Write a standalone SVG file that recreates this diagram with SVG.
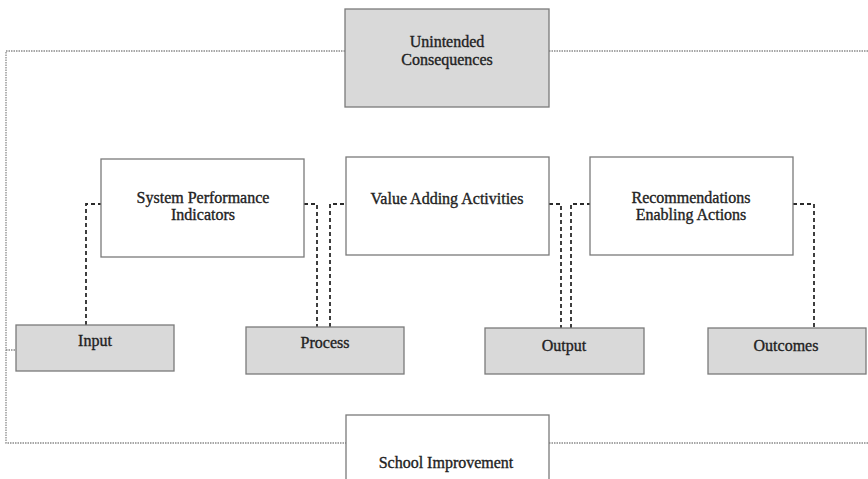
<svg xmlns="http://www.w3.org/2000/svg" width="868" height="479" viewBox="0 0 868 479">
<style>
.box{stroke:#7a7a7a;stroke-width:1.3}
.g{fill:#d9d9d9}
.w{fill:#ffffff}
text{font-family:"Liberation Serif",serif;font-size:16px;fill:#222;stroke:#222;stroke-width:0.35;text-anchor:middle}
.dot{fill:none;stroke:#8a8a8a;stroke-width:1.3;stroke-dasharray:1.5 1}
.dash{fill:none;stroke:#2a2a2a;stroke-width:1.8;stroke-dasharray:4 3}
</style>
<rect width="868" height="479" fill="#fff"/>
<g id="connectors">
<path class="dot" d="M345 51 H6 V443 H346"/>
<path class="dot" d="M549 51 H868"/>
<path class="dot" d="M549 443 H868"/>
<path class="dot" d="M6 350 H16"/>
<path class="dash" d="M86 325 V204 H101"/>
<path class="dash" d="M304 204 H317 V327"/>
<path class="dash" d="M330 327 V204 H346"/>
<path class="dash" d="M549 204 H561 V328"/>
<path class="dash" d="M571 328 V204 H590"/>
<path class="dash" d="M793 204 H814 V328"/>
</g>
<g id="unintended">
<rect class="box g" x="345" y="9" width="204" height="98"/>
<text x="447" y="47">Unintended</text>
<text x="447" y="65">Consequences</text>
</g>
<g id="spi">
<rect class="box w" x="101" y="159" width="203" height="98"/>
<text x="203" y="203">System Performance</text>
<text x="203" y="220">Indicators</text>
</g>
<g id="vaa">
<rect class="box w" x="346" y="157" width="203" height="98"/>
<text x="447" y="204">Value Adding Activities</text>
</g>
<g id="rec">
<rect class="box w" x="590" y="157" width="203" height="98"/>
<text x="691" y="203">Recommendations</text>
<text x="691" y="220">Enabling Actions</text>
</g>
<g id="input">
<rect class="box g" x="16" y="325" width="158" height="46"/>
<text x="95" y="346">Input</text>
</g>
<g id="process">
<rect class="box g" x="246" y="327" width="158" height="47"/>
<text x="325" y="348">Process</text>
</g>
<g id="output">
<rect class="box g" x="485" y="328" width="159" height="46"/>
<text x="564" y="351">Output</text>
</g>
<g id="outcomes">
<rect class="box g" x="708" y="328" width="158" height="46"/>
<text x="786" y="351">Outcomes</text>
</g>
<g id="school">
<rect class="box w" x="346" y="415" width="203" height="80"/>
<text x="446" y="468">School Improvement</text>
</g>
</svg>
